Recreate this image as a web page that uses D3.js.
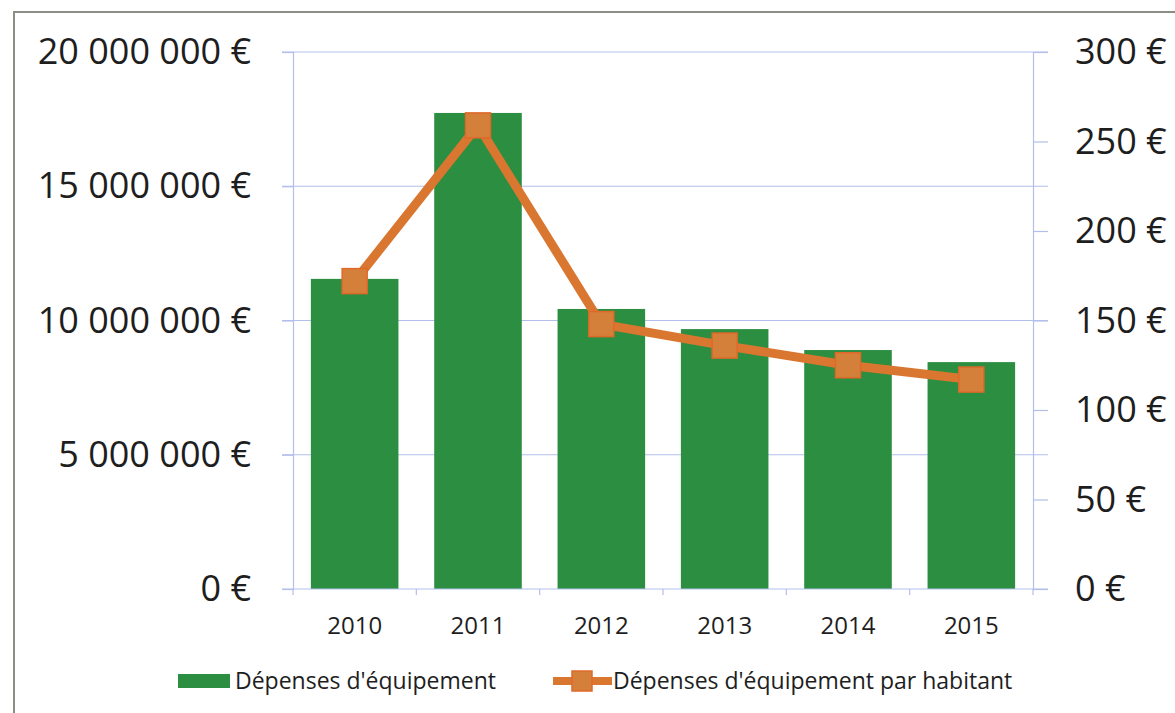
<!DOCTYPE html>
<html>
<head>
<meta charset="utf-8">
<script src="https://cdn.jsdelivr.net/npm/d3@7"></script>
<style>
  body { margin: 0; background: #fff; }
  svg { display: block; font-family: "Open Sans", sans-serif; }
</style>
</head>
<body>
<script>
// data
const years = ["2010", "2011", "2012", "2013", "2014", "2015"];
const depenses = [11550000, 17730000, 10430000, 9680000, 8900000, 8450000];
const parHabitant = [172, 259, 148, 136, 125, 117];
const leftTicks = [0, 5000000, 10000000, 15000000, 20000000];
const rightTicks = [0, 50, 100, 150, 200, 250, 300];
const legendLabels = ["Dépenses d'équipement", "Dépenses d'équipement par habitant"];

const W = 1175, H = 713;
const plot = {left: 293, right: 1033, top: 52, bottom: 589};

const svg = d3.select("body").append("svg")
    .attr("width", W)
    .attr("height", H);

// scanned page frame
svg.append("rect")
    .attr("x", 14).attr("y", 12)
    .attr("width", W + 20).attr("height", H + 20)
    .attr("fill", "none")
    .attr("stroke", "#8d8d86")
    .attr("stroke-width", 2);

const x = d3.scaleBand()
    .domain(years)
    .range([plot.left, plot.right])
    .paddingInner(0.29)
    .paddingOuter(0.145);

const yLeft = d3.scaleLinear()
    .domain([0, 20000000])
    .range([plot.bottom, plot.top]);

const yRight = d3.scaleLinear()
    .domain([0, 300])
    .range([plot.bottom, plot.top]);

const euroBig = d => d3.format(",")(d).replace(/,/g, "\u00a0") + "\u00a0€";

// gridlines
svg.append("g")
    .selectAll("line")
    .data(leftTicks.slice(1))
    .enter().append("line")
    .attr("x1", plot.left - 11).attr("x2", plot.right + 15)
    .attr("y1", d => yLeft(d)).attr("y2", d => yLeft(d))
    .attr("stroke", "#b3bfea")
    .attr("stroke-width", 1.2);

// left axis
const gLeft = svg.append("g")
    .attr("transform", "translate(" + plot.left + ",0)")
    .call(d3.axisLeft(yLeft).tickValues(leftTicks).tickSize(11).tickPadding(31).tickFormat(euroBig))
    .attr("font-family", "'Open Sans', sans-serif")
    .attr("font-size", 36);
gLeft.select(".domain").attr("stroke", "#b3bfea").attr("stroke-width", 1.2);
gLeft.selectAll(".tick line").attr("stroke", "#b3bfea").attr("stroke-width", 1.2);
gLeft.selectAll(".tick text").attr("fill", "#1e1e1e");

// right axis
const gRight = svg.append("g")
    .attr("transform", "translate(" + plot.right + ",0)")
    .call(d3.axisRight(yRight).tickValues(rightTicks).tickSize(15).tickPadding(27).tickFormat(d => d + "\u00a0€"))
    .attr("font-family", "'Open Sans', sans-serif")
    .attr("font-size", 36);
gRight.select(".domain").attr("stroke", "#b3bfea").attr("stroke-width", 1.2);
gRight.selectAll(".tick line").attr("stroke", "#b3bfea").attr("stroke-width", 1.2);
gRight.selectAll(".tick text").attr("fill", "#1e1e1e");

// bars
svg.append("g")
    .selectAll("rect")
    .data(depenses)
    .enter().append("rect")
    .attr("x", (d, i) => x(years[i]))
    .attr("y", d => yLeft(d))
    .attr("width", x.bandwidth())
    .attr("height", d => yLeft(0) - yLeft(d))
    .attr("fill", "#2b8e40");

// x axis (ticks on category boundaries)
const xAxisG = svg.append("g")
    .attr("transform", "translate(0," + plot.bottom + ")");
xAxisG.append("line")
    .attr("x1", plot.left - 11).attr("x2", plot.right + 15)
    .attr("stroke", "#b3bfea").attr("stroke-width", 1.2);
xAxisG.selectAll(".sep")
    .data(d3.range(years.length + 1))
    .enter().append("line")
    .attr("x1", i => plot.left + i * x.step())
    .attr("x2", i => plot.left + i * x.step())
    .attr("y1", 0).attr("y2", 6)
    .attr("stroke", "#b3bfea").attr("stroke-width", 1.2);
xAxisG.selectAll(".lbl")
    .data(years)
    .enter().append("text")
    .attr("x", d => x(d) + x.bandwidth() / 2)
    .attr("y", 45)
    .attr("text-anchor", "middle")
    .attr("fill", "#1e1e1e")
    .style("font-size", "24px")
    .text(d => d);

// line per habitant
const line = d3.line()
    .x((d, i) => x(years[i]) + x.bandwidth() / 2)
    .y(d => yRight(d));

svg.append("path")
    .datum(parHabitant)
    .attr("d", line)
    .attr("fill", "none")
    .attr("stroke", "#d9762f")
    .attr("stroke-width", 9)
    .attr("stroke-linejoin", "round");

svg.append("g")
    .selectAll("rect")
    .data(parHabitant)
    .enter().append("rect")
    .attr("x", (d, i) => x(years[i]) + x.bandwidth() / 2 - 12.5)
    .attr("y", d => yRight(d) - 12.5)
    .attr("width", 25).attr("height", 25)
    .attr("fill", "#d4803b")
    .attr("stroke", "#e0692a")
    .attr("stroke-width", 1.5);

// legend
const lg = svg.append("g");
lg.append("rect")
    .attr("x", 178).attr("y", 674)
    .attr("width", 52).attr("height", 14)
    .attr("fill", "#2b8e40");
lg.append("text")
    .attr("x", 235).attr("y", 689)
    .attr("fill", "#1e1e1e")
    .style("font-size", "23px")
    .text(legendLabels[0]);
lg.append("line")
    .attr("x1", 553).attr("x2", 612)
    .attr("y1", 681).attr("y2", 681)
    .attr("stroke", "#d9762f").attr("stroke-width", 8);
lg.append("rect")
    .attr("x", 572).attr("y", 671)
    .attr("width", 20).attr("height", 20)
    .attr("fill", "#d4803b")
    .attr("stroke", "#e0692a").attr("stroke-width", 1.5);
lg.append("text")
    .attr("x", 613).attr("y", 689)
    .attr("fill", "#1e1e1e")
    .style("font-size", "23px")
    .text(legendLabels[1]);
</script>
</body>
</html>
